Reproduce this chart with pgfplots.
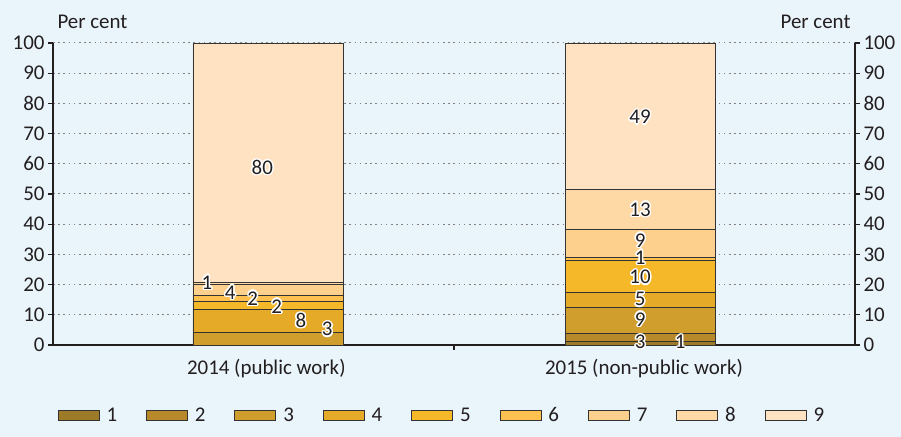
\documentclass[border=0pt]{standalone}
\usepackage{pgfplots}
\usepackage{pgfplotstable}
\pgfplotsset{compat=1.18}
\usepackage{fontspec}
\setmainfont{Carlito}
\usepackage{contour}
\contourlength{1.4pt}

\definecolor{bg}{RGB}{233,244,251}
\definecolor{txt}{HTML}{231F20}
\definecolor{c1}{HTML}{9C7A27}
\definecolor{c2}{HTML}{B8892A}
\definecolor{c3}{HTML}{D09E2C}
\definecolor{c4}{HTML}{E5AA28}
\definecolor{c5}{HTML}{F5B829}
\definecolor{c6}{HTML}{FEC04F}
\definecolor{c7}{HTML}{FDD08E}
\definecolor{c8}{HTML}{FED8A5}
\definecolor{c9}{HTML}{FEE2C2}

% stacked shares, per cent: x = bar position
\pgfplotstableread{
x     s1  s2  s3  s4  s5   s6  s7  s8   s9
0.268 0   0   4.1 7.8 2.4  2.2 3.5 0.8  79.2
0.732 1.1 2.8 8.6 4.9 10.7 0.9 9.3 13.2 48.5
}\shares

% value labels as printed in the chart
\pgfplotstableread{
x     y    lab
0.192 20.5 1
0.221 17.2 4
0.249 15.2 2
0.279 12.6 2
0.309 7.9  8
0.342 5.0  3
0.261 58.6 80
0.732 75.2 49
0.732 44.7 13
0.732 34.4 9
0.732 28.8 1
0.732 22.2 10
0.732 14.9 5
0.732 8.3  9
0.732 0.8  3
0.782 0.8  1
}\labels

\pgfplotsset{
  base/.style={
    scale only axis, width=802bp, height=302bp,
    xmin=0, xmax=1, ymin=0, ymax=100,
    ytick={0,10,...,100},
    tick align=outside, major tick length=5bp,
    tick style={line width=1.2bp, color=txt},
    axis line style={-, line width=1.6bp, color=txt},
    ticklabel style={text=txt},
    /pgf/number format/assume math mode=true,
    font=\fontsize{21}{25}\selectfont,
  },
}

\begin{document}
\begin{tikzpicture}[font=\fontsize{21}{25}\selectfont]
\path[fill=bg, use as bounding box] (-53bp,-92bp) rectangle (848bp,345bp);

\begin{axis}[base,
  ybar stacked, bar width=0.187,
  axis x line*=bottom, axis y line*=left,
  xtick={0.5}, xticklabels={},
  extra x ticks={0.266,0.737},
  extra x tick labels={2014 (public work),2015 (non-public work)},
  extra x tick style={major tick length=0pt,
    xticklabel style={yshift=-11bp}},
  ymajorgrids, grid style={dash pattern=on 1.6bp off 3.6bp, black!50, line width=1bp},
  every axis plot/.append style={draw=black!80, line width=0.8bp},
  legend style={at={(0.485,-0.232)}, anchor=center, draw=none, fill=none,
    text=txt, /tikz/every even column/.append style={column sep=27bp}},
  legend columns=9,
  legend image code/.code={\draw[#1, line width=0.8bp] (0bp,-5bp) rectangle (41bp,5bp);
    \path (46bp,0bp);},
]
\addplot[fill=c1] table[x=x, y=s1] {\shares};
\addplot[fill=c2] table[x=x, y=s2] {\shares};
\addplot[fill=c3] table[x=x, y=s3] {\shares};
\addplot[fill=c4] table[x=x, y=s4] {\shares};
\addplot[fill=c5] table[x=x, y=s5] {\shares};
\addplot[fill=c6] table[x=x, y=s6] {\shares};
\addplot[fill=c7] table[x=x, y=s7] {\shares};
\addplot[fill=c8] table[x=x, y=s8] {\shares};
\addplot[fill=c9] table[x=x, y=s9] {\shares};
\legend{1,2,3,4,5,6,7,8,9}
\end{axis}

\begin{axis}[base,
  axis x line=none, axis y line*=right,
]
\addplot[only marks, mark=*, mark size=0pt, draw=none, fill=none,
  point meta=explicit symbolic,
  nodes near coords={\contour{white}{\pgfplotspointmeta}},
  every node near coord/.append style={anchor=center, text=txt, inner sep=0pt,
    font=\fontsize{21}{25}\selectfont},
] table[x=x, y=y, meta=lab] {\labels};
\end{axis}

\node[anchor=west, text=txt] at (1bp,323bp) {Per cent};
\node[anchor=east, text=txt] at (801bp,323bp) {Per cent};
\end{tikzpicture}
\end{document}
